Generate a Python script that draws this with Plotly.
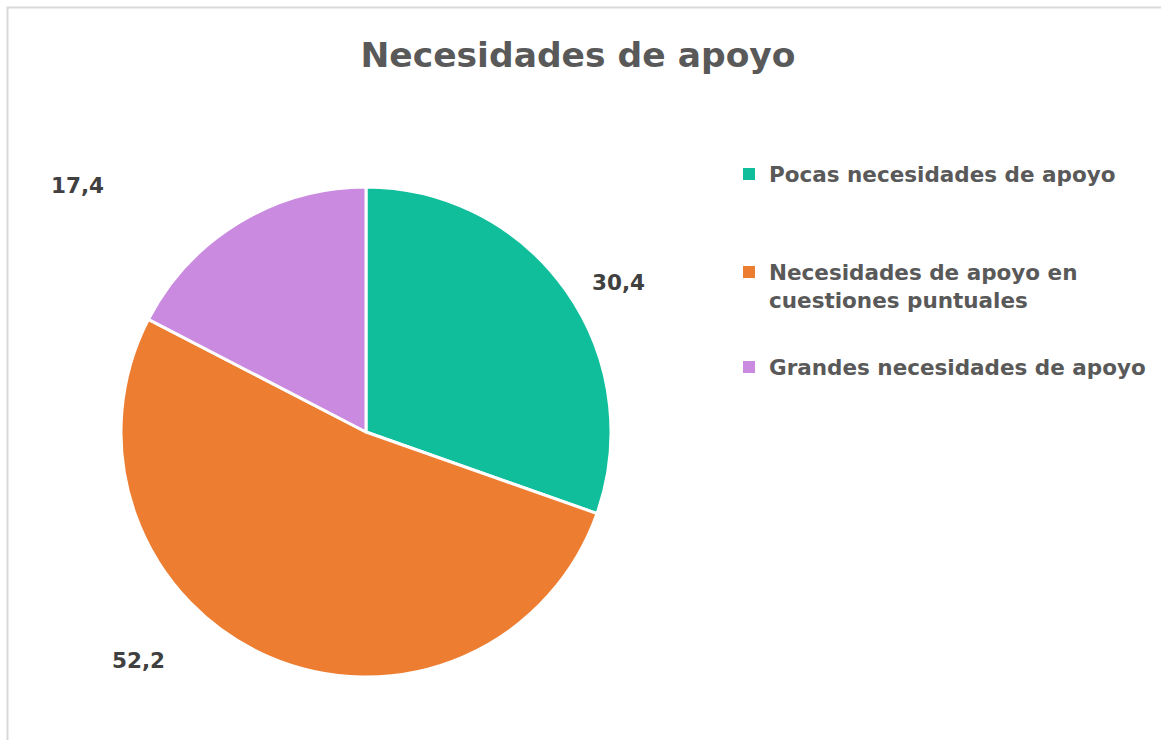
import plotly.graph_objects as go

categories = ["Pocas necesidades de apoyo",
              "Necesidades de apoyo en<br>cuestiones puntuales",
              "Grandes necesidades de apoyo"]
values = [30.4, 52.2, 17.4]
colors = ["#10BE9C", "#ED7D31", "#C98AE0"]
label_pos = [(618, 282), (138, 660), (77, 185)]  # label pixel centres
legend_y = [174, 286, 367]  # legend entry pixel centres

W, H = 1161, 740
FONT = "DejaVu Sans"

fig = go.Figure()
cx, cy, r = 366, 432, 245
fig.add_trace(go.Pie(
    values=values, labels=categories, sort=False, direction="clockwise",
    rotation=0, marker=dict(colors=colors, line=dict(color="white", width=3)),
    textinfo="none", showlegend=False, hoverinfo="label+value",
    domain=dict(x=[(cx - r) / W, (cx + r) / W], y=[1 - (cy + r) / H, 1 - (cy - r) / H]),
))

legend_font = dict(family=FONT, size=21.5, color="#595959", weight="bold")
legends = {}
for i, (cat, col, ly) in enumerate(zip(categories, colors, legend_y)):
    lname = "legend" if i == 0 else f"legend{i + 1}"
    fig.add_trace(go.Scatter(
        x=[None], y=[None], mode="markers", name=cat, legend=lname,
        marker=dict(symbol="square", size=9, color=col),
    ))
    legends[lname] = dict(x=729 / W, y=1 - ly / H, xanchor="left", yanchor="middle",
                          font=legend_font, itemsizing="constant", valign="top",
                          bgcolor="rgba(0,0,0,0)")

for v, (px, py) in zip(values, label_pos):
    fig.add_annotation(
        x=px / W, y=1 - py / H, xref="paper", yref="paper",
        xanchor="center", yanchor="middle",
        text=f"{v:.1f}".replace(".", ","), showarrow=False,
        font=dict(family=FONT, size=21.5, color="#404040", weight="bold"),
    )

fig.add_shape(type="rect", xref="paper", yref="paper",
              x0=7.5 / W, x1=1.1, y0=-0.1, y1=1 - 7.5 / H,
              line=dict(color="#D9D9D9", width=2), fillcolor="rgba(0,0,0,0)")

fig.update_layout(
    width=W, height=H,
    margin=dict(l=0, r=0, t=0, b=0),
    paper_bgcolor="white", plot_bgcolor="white",
    title=dict(text="<b>Necesidades de apoyo</b>", x=578 / W, y=1 - 55 / H,
               xanchor="center", yanchor="middle",
               font=dict(family=FONT, size=34.5, color="#595959")),
    xaxis=dict(visible=False), yaxis=dict(visible=False),
    showlegend=True,
    **legends,
)

fig.write_html("out.html", config={"displayModeBar": False},
               post_script="document.body.style.margin='0';document.body.style.overflow='hidden';")
